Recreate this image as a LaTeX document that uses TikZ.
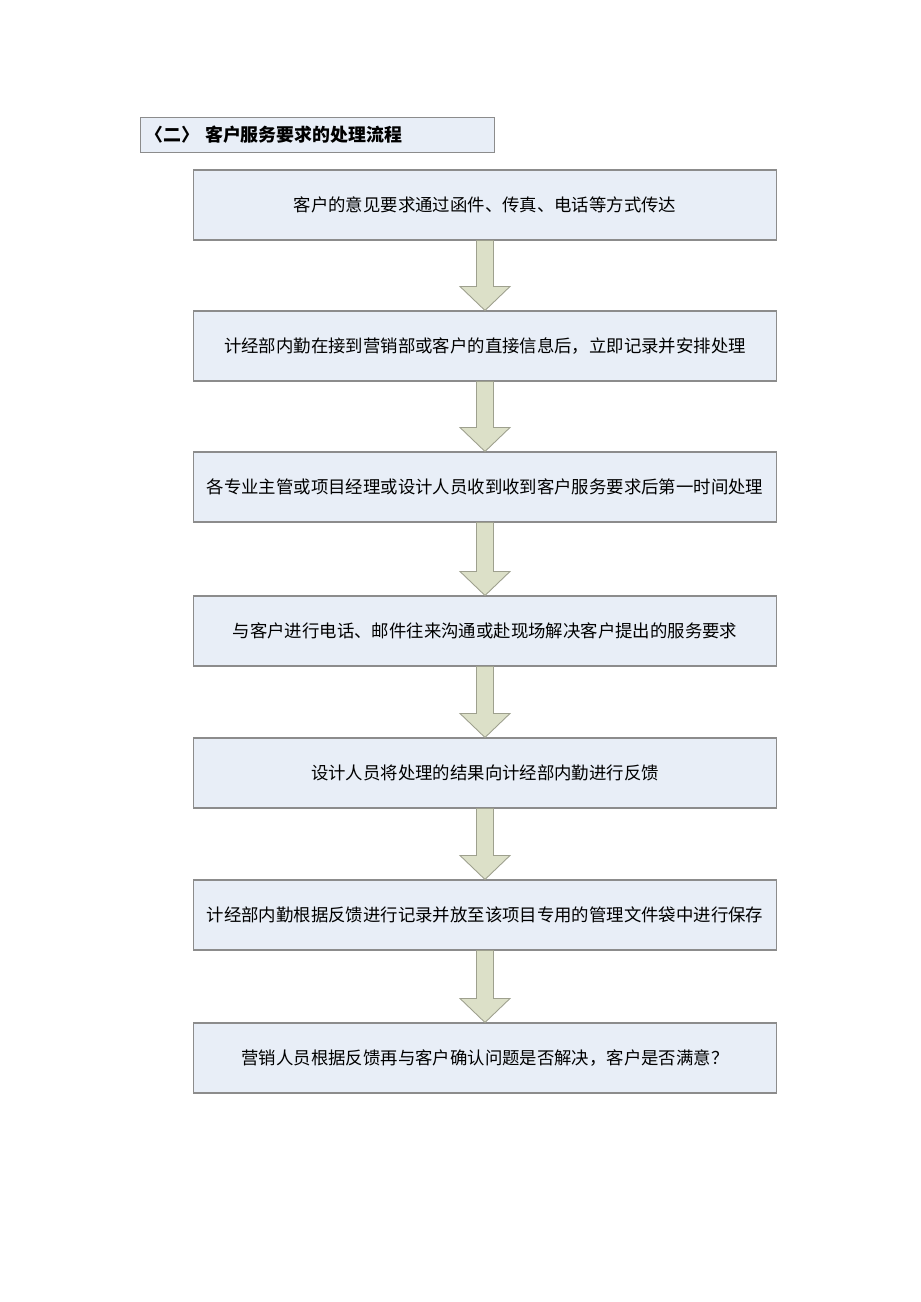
\documentclass[tikz,border=0pt]{standalone}
\usepackage{fontspec}
\newfontfamily\cjk{Noto Sans CJK SC}
\usetikzlibrary{calc}
\definecolor{boxfill}{RGB}{232,238,247}
\definecolor{boxline}{RGB}{140,140,140}
\definecolor{arrowfill}{RGB}{220,224,200}
\definecolor{arrowline}{RGB}{158,160,142}
\begin{document}
\begin{tikzpicture}[x=0.02cm, y=-0.02cm,
    stepbox/.style={draw=boxline, fill=boxfill, line width=0.6pt, minimum width=11.68cm,
      minimum height=1.4cm, inner sep=0pt, font=\cjk\fontsize{9.9}{12}\selectfont},
    titlebox/.style={draw=boxline, fill=boxfill, line width=0.6pt, minimum width=7.08cm,
      minimum height=0.7cm, inner sep=0pt, anchor=north west},
    flowarrow/.style={draw=arrowline, fill=arrowfill, line width=0.5pt, line join=miter}]
    \useasboundingbox (0,0) rectangle (920,1302);
    % title
    \node[titlebox] (title) at (140,117) {};
    \node[anchor=west, inner sep=0pt, font=\cjk\bfseries\fontsize{10.2}{12}\selectfont]
        (titletext) at ($(title.west)+(5,0)$) {〈二〉\hspace{0.12cm}客户服务要求的处理流程};
    % steps
    \node[stepbox] (s1) at (485,205) {客户的意见要求通过函件、传真、电话等方式传达};
    \node[stepbox] (s2) at (485,346) {计经部内勤在接到营销部或客户的直接信息后，立即记录并安排处理};
    \node[stepbox] (s3) at (485,487) {各专业主管或项目经理或设计人员收到收到客户服务要求后第一时间处理};
    \node[stepbox] (s4) at (485,631) {与客户进行电话、邮件往来沟通或赴现场解决客户提出的服务要求};
    \node[stepbox] (s5) at (485,773) {设计人员将处理的结果向计经部内勤进行反馈};
    \node[stepbox] (s6) at (485,915) {计经部内勤根据反馈进行记录并放至该项目专用的管理文件袋中进行保存};
    \node[stepbox] (s7) at (485,1058) {营销人员根据反馈再与客户确认问题是否解决，客户是否满意？};
    % block arrows
    \foreach \a/\b in {s1/s2, s2/s3, s3/s4, s4/s5, s5/s6, s6/s7}
        \draw[flowarrow] ($(\a.south)+(-8.5,0)$) -- ($(\b.north)+(-8.5,-24)$)
            -- ($(\b.north)+(-25,-24)$) -- (\b.north) -- ($(\b.north)+(25,-24)$)
            -- ($(\b.north)+(8.5,-24)$) -- ($(\a.south)+(8.5,0)$) -- cycle;
\end{tikzpicture}
\end{document}
